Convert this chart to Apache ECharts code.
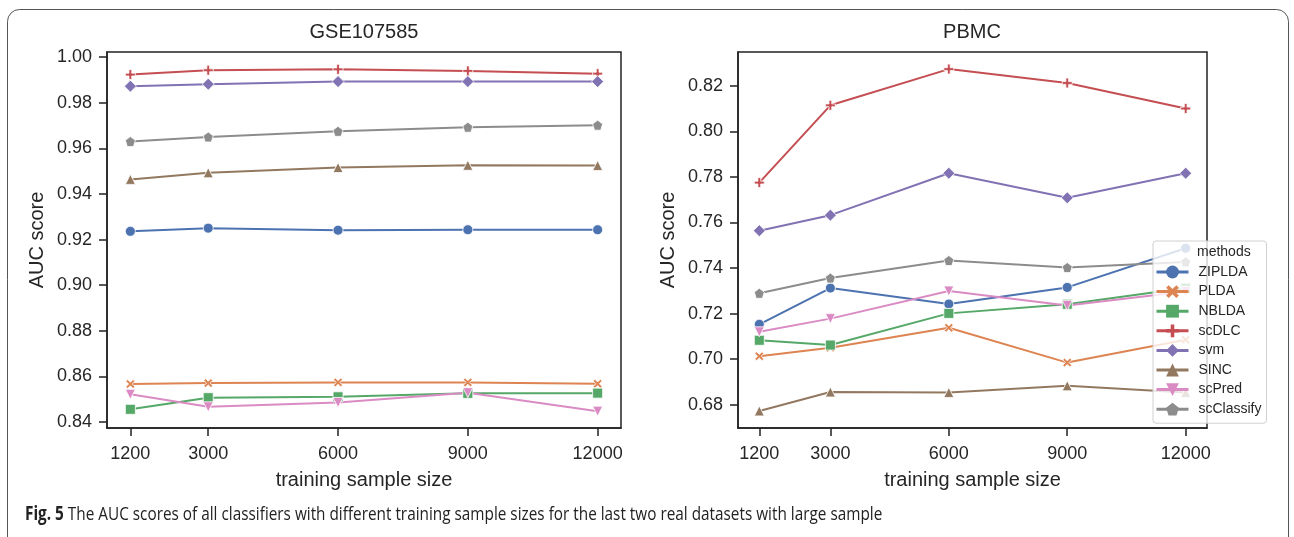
<!DOCTYPE html>
<html>
<head>
<meta charset="utf-8">
<script src="https://cdn.jsdelivr.net/npm/echarts@6/dist/echarts.min.js"></script>
<style>
  html, body { margin: 0; padding: 0; background: #fff; }
  #container { width: 1294px; height: 537px; }
</style>
</head>
<body>
<div id="container"></div>
<script>
// training sample sizes (x ticks)
var sizes = [1200, 3000, 6000, 9000, 12000];
var methods = ['ZIPLDA', 'PLDA', 'NBLDA', 'scDLC', 'svm', 'SINC', 'scPred', 'scClassify'];

// GSE107585 panel
var gseZIPLDA = [0.9236, 0.9250, 0.9241, 0.9243, 0.9243];
var gsePLDA = [0.8566, 0.8570, 0.8573, 0.8573, 0.8567];
var gseNBLDA = [0.8455, 0.8506, 0.8510, 0.8525, 0.8526];
var gseScDLC = [0.9924, 0.9943, 0.9947, 0.9940, 0.9928];
var gseSvm = [0.9873, 0.9882, 0.9893, 0.9893, 0.9893];
var gseSINC = [0.9464, 0.9493, 0.9516, 0.9526, 0.9525];
var gseScPred = [0.8521, 0.8466, 0.8485, 0.8528, 0.8447];
var gseScClassify = [0.9630, 0.9650, 0.9675, 0.9693, 0.9702];

// PBMC panel
var pbmcZIPLDA = [0.7153, 0.7312, 0.7242, 0.7315, 0.7487];
var pbmcPLDA = [0.7013, 0.7050, 0.7138, 0.6985, 0.7085];
var pbmcNBLDA = [0.7083, 0.7062, 0.7201, 0.7241, 0.7312];
var pbmcScDLC = [0.7775, 0.8114, 0.8273, 0.8212, 0.8100];
var pbmcSvm = [0.7564, 0.7632, 0.7816, 0.7708, 0.7816];
var pbmcSINC = [0.6773, 0.6856, 0.6854, 0.6883, 0.6854];
var pbmcScPred = [0.7120, 0.7178, 0.7299, 0.7236, 0.7297];
var pbmcScClassify = [0.7289, 0.7356, 0.7433, 0.7402, 0.7427];

var gseTicks = [0.84, 0.86, 0.88, 0.90, 0.92, 0.94, 0.96, 0.98, 1.00];
var pbmcTicks = [0.68, 0.70, 0.72, 0.74, 0.76, 0.78, 0.80, 0.82];

var gseData = [gseZIPLDA, gsePLDA, gseNBLDA, gseScDLC, gseSvm, gseSINC, gseScPred, gseScClassify];
var pbmcData = [pbmcZIPLDA, pbmcPLDA, pbmcNBLDA, pbmcScDLC, pbmcSvm, pbmcSINC, pbmcScPred, pbmcScClassify];

var colors = ['#4C72B0', '#DD8452', '#55A868', '#C44E52', '#8172B3', '#937860', '#DA8BC3', '#8C8C8C'];
var symbols = [
    'circle',
    'path://M2,0 L5,3 L8,0 L10,2 L7,5 L10,8 L8,10 L5,7 L2,10 L0,8 L3,5 L0,2 Z',
    'rect',
    'path://M3.6,0 H6.4 V3.6 H10 V6.4 H6.4 V10 H3.6 V6.4 H0 V3.6 H3.6 Z',
    'diamond',
    'triangle',
    'triangle',
    'path://M5,0 L10,3.8 L8.1,10 L1.9,10 L0,3.8 Z'
];
var symbolSizes = [10, 9, 10, 10, 12, 10, 10, 10];
var symbolRotates = [0, 0, 0, 0, 0, 0, 180, 0];

var txt = '#262626';
var font = 'Liberation Sans, Arial, sans-serif';

function makeX(idx) {
    return {
        type: 'value', gridIndex: idx, min: 660, max: 12540,
        name: 'training sample size', nameLocation: 'middle', nameGap: 42,
        nameTextStyle: { fontSize: 20, color: txt, fontFamily: font },
        axisLine: { show: true, onZero: false, lineStyle: { color: '#222', width: 1.5 } },
        axisTick: { show: true, length: 8, customValues: sizes, lineStyle: { color: '#222', width: 1.5 } },
        axisLabel: { customValues: sizes, fontSize: 18, color: txt, fontFamily: font, margin: 17,
            formatter: function (v) { return String(v); } },
        splitLine: { show: false }
    };
}
function makeY(idx, lo, hi, ticks) {
    return {
        type: 'value', gridIndex: idx, min: lo, max: hi,
        name: 'AUC score', nameLocation: 'middle', nameGap: 60,
        nameTextStyle: { fontSize: 20, color: txt, fontFamily: font },
        axisLine: { show: true, onZero: false, lineStyle: { color: '#222', width: 1.5 } },
        axisTick: { show: true, length: 8, customValues: ticks, lineStyle: { color: '#222', width: 1.5 } },
        axisLabel: { customValues: ticks, fontSize: 18, color: txt, fontFamily: font, margin: 15,
            formatter: function (v) { return v.toFixed(2); } },
        splitLine: { show: false }
    };
}

var series = [];
function addSeries(data, idx) {
    for (var i = 0; i < methods.length; i++) {
        series.push({
            name: methods[i], type: 'line', xAxisIndex: idx, yAxisIndex: idx,
            data: sizes.map(function (s, k) { return [s, data[i][k]]; }),
            symbol: symbols[i], symbolSize: symbolSizes[i], symbolRotate: symbolRotates[i],
            showAllSymbol: true,
            lineStyle: { color: colors[i], width: 2 },
            itemStyle: { color: colors[i], borderColor: '#fff', borderWidth: 0.8, opacity: 1 },
            emphasis: { disabled: true },
            animation: false
        });
    }
}
addSeries(gseData, 0);
addSeries(pbmcData, 1);

var option = {
    animation: false,
    color: colors,
    grid: [
        { left: 107, top: 52, width: 514, height: 376, show: true, borderColor: '#222', borderWidth: 1.5, backgroundColor: '#fff' },
        { left: 738, top: 52, width: 469, height: 376, show: true, borderColor: '#222', borderWidth: 1.5, backgroundColor: '#fff' }
    ],
    xAxis: [makeX(0), makeX(1)],
    yAxis: [makeY(0, 0.8373, 1.0023, gseTicks), makeY(1, 0.6698, 0.8348, pbmcTicks)],
    legend: {
        data: methods, orient: 'vertical', left: 1153, top: 241,
        itemWidth: 32, itemHeight: 16, itemGap: 5.6,
        padding: [24, 5, 7, 2],
        backgroundColor: 'rgba(255,255,255,0.8)', borderColor: '#d0d0d0', borderWidth: 1, borderRadius: 3,
        itemStyle: { borderWidth: 0 },
        lineStyle: { width: 3 },
        textStyle: { fontSize: 14, color: txt, fontFamily: font, padding: [0, 0, 0, 5] },
        selectedMode: false
    },
    graphic: [
        { type: 'rect', z: -10, shape: { x: 7.5, y: 9.5, width: 1281, height: 560, r: 12 },
          style: { fill: 'none', stroke: '#555', lineWidth: 1 } },
        { type: 'text', x: 364, y: 32, style: { text: 'GSE107585', fontSize: 20, fill: txt, fontFamily: font, textAlign: 'center', textVerticalAlign: 'middle' } },
        { type: 'text', x: 972, y: 32, style: { text: 'PBMC', fontSize: 20, fill: txt, fontFamily: font, textAlign: 'center', textVerticalAlign: 'middle' } },
        { type: 'text', z: 100, x: 1197, y: 252, style: { text: 'methods', fontSize: 14, fill: txt, fontFamily: font, textAlign: 'left', textVerticalAlign: 'middle' } },
        { type: 'text', x: 25, y: 515, scaleX: 0.807, style: {
            text: '{b|Fig. 5} The AUC scores of all classifiers with different training sample sizes for the last two real datasets with large sample',
            fontSize: 19, fill: '#222', fontFamily: 'Open Sans, Liberation Sans, sans-serif', textVerticalAlign: 'middle',
            rich: { b: { fontWeight: 'bold', fontSize: 19, fill: '#222', fontFamily: 'Open Sans, Liberation Sans, sans-serif' } }
        } }
    ],
    series: series
};

var myChart = echarts.init(document.getElementById('container'), null, { renderer: 'canvas' });
myChart.setOption(option);
</script>
</body>
</html>
